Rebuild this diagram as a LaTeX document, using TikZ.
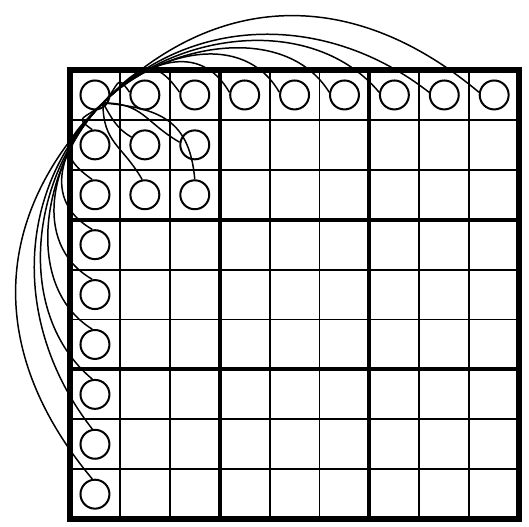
\documentclass[tikz,border=0pt]{standalone}
\usepackage{tikz}
\usetikzlibrary{positioning, calc}
\definecolor{gridink}{HTML}{000000}
\tikzset{
  thinrule/.style={gridink, line width=1.05pt},
  boxrule/.style={gridink, line width=2.2pt},
  outerrule/.style={gridink, line width=3.0pt, line join=miter},
  cand/.style={
    circle, draw=gridink, line width=1.15pt, minimum size=0.58cm,
    inner sep=0pt
  },
  link/.style={gridink, line width=0.85pt}
}

\begin{document}
\begin{tikzpicture}[x=1cm, y=1cm]

\useasboundingbox (-1.403,-0.14) rectangle (9.198,10.403);

% ── The 9x9 board ────────────────────────────────────────────────────────────
\draw[thinrule] (0,0) grid (9,9);
\foreach \i in {3,6} {
  \draw[boxrule] (\i,0) -- (\i,9);
  \draw[boxrule] (0,\i) -- (9,\i);
}
\draw[outerrule] (0,0) rectangle (9,9);

% ── Circles: first row, first column, rest of the top-left box ──────────────
\foreach \c in {1,...,9} {
  \node[cand] (s1\c) at (\c-0.5, 8.5) {};
}
\foreach \r in {2,...,9} {
  \node[cand] (s\r1) at (0.5, 9.5-\r) {};
}
\node[cand] (s22) at (1.5, 7.5) {};
\node[cand] (s23) at (2.5, 7.5) {};
\node[cand] (s32) at (1.5, 6.5) {};
\node[cand] (s33) at (2.5, 6.5) {};

% common start point, lower right part of the first circle
\coordinate (hub) at ($(s11)+(0.16,-0.16)$);

% ── Links along the row (over the top) and the column (round the left) ─────
% index / looseness / entry angle (row side; column side is mirrored)
\foreach \c/\l/\a [evaluate=\a as \b using 270-\a] in
    {2/2.2/125, 3/1.6/125, 4/1.2/120, 5/1.05/120,
     6/0.95/122, 7/0.95/130, 8/1.0/142, 9/1.1/140} {
  \draw[link] (hub) to[out=45, in=\a, looseness=\l] (s1\c.170);
  \draw[link] (hub) to[out=225, in=\b, looseness=\l] (s\c1.100);
}

% ── Links inside the box ────────────────────────────────────────────────────
\draw[link] (hub) to[out=0, in=150, looseness=1.2] (s23.170);
\draw[link] (hub) to[out=270, in=120, looseness=1.2] (s32.100);
\draw[link] (hub) to[out=-5, in=95, looseness=1.25] (s33.north);
\draw[link] (hub) to[out=-60, in=150] (s22.150);

\end{tikzpicture}
\end{document}
